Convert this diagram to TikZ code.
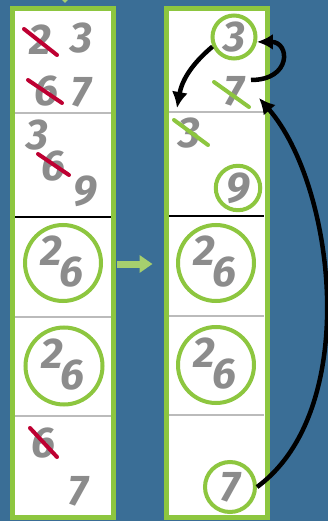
\documentclass[tikz,border=0pt]{standalone}
\usepackage{fontspec}
\newfontfamily\handfont{Fira Sans}
\usepackage{xcolor}
\usetikzlibrary{arrows.meta,positioning,calc}
\definecolor{bgblue}{HTML}{3A6E96}
\definecolor{framegreen}{HTML}{8DC63F}
\definecolor{ringgreen}{HTML}{8DC63F}
\definecolor{arrowgreen}{HTML}{A6CF6E}
\definecolor{strikered}{HTML}{BE0032}
\definecolor{digitgray}{HTML}{8C8C8C}
\definecolor{sepgray}{HTML}{BBBBBB}
\tikzset{
  column/.style={draw=framegreen, line width=5pt, fill=white, minimum width=101pt, minimum height=509pt, inner sep=0pt},
  digit/.style={font=\handfont\bfseries\itshape\fontsize{43}{43}\selectfont, text=digitgray, inner sep=2pt},
  ring/.style={draw=ringgreen, line width=4pt, circle, inner sep=0pt},
  redstrike/.style={draw=strikered, line width=4pt, line cap=round},
  greenstrike/.style={draw=ringgreen, line width=4pt, line cap=round},
  graysep/.style={draw=sepgray, line width=2pt},
  blacksep/.style={draw=black, line width=2.5pt},
  arr/.style={-{Latex[length=16pt,width=16pt]}, line width=4.5pt, black},
  movearr/.style={-{Triangle[length=13pt,width=17pt]}, line width=7pt, arrowgreen}
}

\begin{document}
\begin{tikzpicture}[x=1pt,y=-1pt]
\fill[bgblue] (0,0) rectangle (328,521);
\useasboundingbox (0,0) rectangle (328,521);
\fill[arrowgreen] (62,0) -- (68,0) -- (65,3) -- cycle;

\node[column] (lcol) at (63,263) {};
\node[column] (rcol) at (216.5,263) {};

\draw[graysep] (15,113) -- (111,113);
\draw[blacksep] (15,217) -- (111,217);
\draw[graysep] (15,317) -- (111,317);
\draw[graysep] (15,416) -- (111,416);
\draw[graysep] (169,112) -- (264,112);
\draw[blacksep] (169,216) -- (264,216);
\draw[graysep] (169,316) -- (264,316);
\draw[graysep] (169,415) -- (264,415);

\node[digit] (l2) at (40,40) {2};
\node[digit] (l3) at (81,38) {3};
\node[digit] (l6) at (46,91) {6};
\node[digit] (l7) at (81,92) {7};
\node[digit] (m3) at (37,135) {3};
\node[digit] (m6) at (53,166) {6};
\node[digit] (m9) at (85,191) {9};
\node[ring, minimum size=76pt] (lringA) at (63,263) {};
\node[digit] (ltwoA) at (51,251) {2};
\node[digit] (lsixA) at (71,272) {6};
\node[ring, minimum size=77pt] (lringB) at (64,366) {};
\node[digit] (ltwoB) at (52,354) {2};
\node[digit] (lsixB) at (72,375) {6};
\node[digit] (n6) at (43,443) {6};
\node[digit] (n7) at (78,491) {7};

\draw[redstrike] (24,29) -- (57,55);
\draw[redstrike] (28,80) -- (62,103);
\draw[redstrike] (38,154) -- (69,175);
\draw[redstrike] (30,428) -- (57,457);

\node[ring, digit, minimum size=43pt] (r3c) at (234,37) {3};
\node[digit] (r7x) at (234,91) {7};
\node[digit] (r3x) at (189,133) {3};
\node[ring, digit, minimum size=39pt] (r9c) at (238,188) {9};
\node[ring, minimum size=76pt] (rringA) at (216,263) {};
\node[digit] (rtwoA) at (204,251) {2};
\node[digit] (rsixA) at (224,272) {6};
\node[ring, minimum size=76pt] (rringB) at (216,365) {};
\node[digit] (rtwoB) at (204,353) {2};
\node[digit] (rsixB) at (224,374) {6};
\node[ring, digit, minimum size=50pt] (r7c) at (230,487) {7};

\draw[greenstrike] (214,82) -- (249,107);
\draw[greenstrike] (174,120) -- (208,145);

\draw[movearr, shorten <=1pt, shorten >=11pt] (lcol.east |- 0,264) -- (rcol.west |- 0,264);

\draw[arr] (r3c.204) to[bend right=20] ($(r3x)+(-12,-25)$);
\draw[arr] ($(r7x)+(17,-11)$) .. controls +(41,0) and +(33,0) .. (r3c.-12);
\draw[arr] (r7c.east) .. controls +(105,-77) and +(76,87) .. ($(r7x)+(25,7)$);
\end{tikzpicture}
\end{document}
